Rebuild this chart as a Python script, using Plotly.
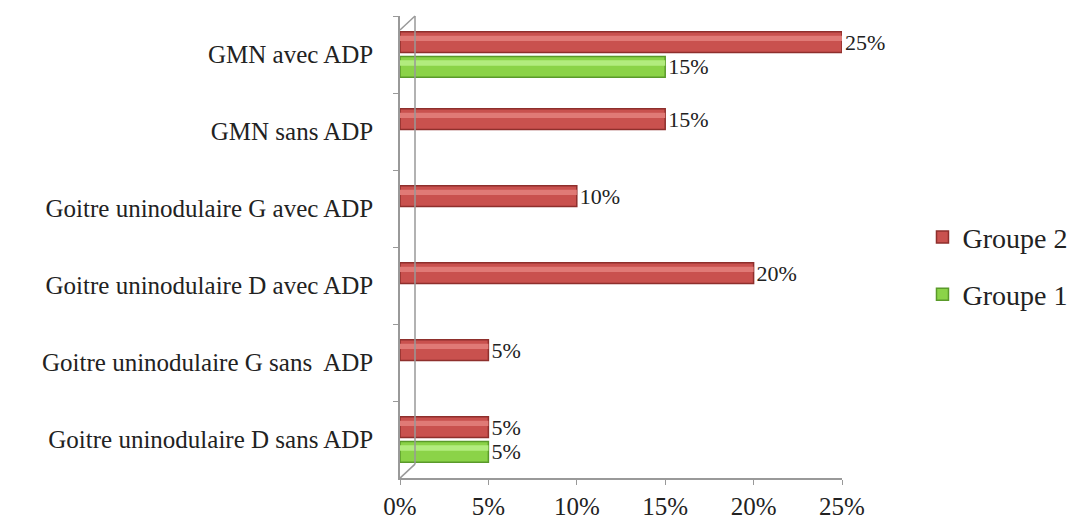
import plotly.graph_objects as go

categories = [
    "GMN avec ADP",
    "GMN sans ADP",
    "Goitre uninodulaire G avec ADP",
    "Goitre uninodulaire D avec ADP",
    "Goitre uninodulaire G sans  ADP",
    "Goitre uninodulaire D sans ADP",
]
groupe2 = [0.25, 0.15, 0.10, 0.20, 0.05, 0.05]
groupe1 = [0.15, None, None, None, None, 0.05]

RED = "#C9514E"
RED_DARK = "#8E2F2C"
RED_HI = "#E07A76"
GREEN = "#8BD348"
GREEN_DARK = "#5A9A2A"
GREEN_HI = "#B2EC7E"

FONT = "Liberation Serif"
BAR_W = 0.27
GAP = 0.025

fig = go.Figure()

# main cylinders
fig.add_trace(go.Bar(
    y=categories, x=groupe2, orientation="h", name="Groupe 2",
    offset=-GAP - BAR_W, width=BAR_W,
    marker=dict(color=RED, line=dict(color=RED_DARK, width=1.5)),
    text=[f"{v:.0%}" for v in groupe2], textposition="outside",
    constraintext="none",
    textfont=dict(family=FONT, size=22, color="#222"),
    cliponaxis=False, legendgroup="g2",
))
fig.add_trace(go.Bar(
    y=categories, x=groupe1, orientation="h", name="Groupe 1",
    offset=GAP, width=BAR_W,
    marker=dict(color=GREEN, line=dict(color=GREEN_DARK, width=1.5)),
    text=[f"{v:.0%}" if v is not None else "" for v in groupe1],
    textposition="outside", constraintext="none",
    textfont=dict(family=FONT, size=22, color="#222"),
    cliponaxis=False, legendgroup="g1",
))

# highlight stripe on each cylinder for a rounded look
fig.add_trace(go.Bar(
    y=categories, x=groupe2, orientation="h", showlegend=False, hoverinfo="skip",
    offset=-GAP - BAR_W + 0.05, width=0.07,
    marker=dict(color=RED_HI, line=dict(width=0)),
))
fig.add_trace(go.Bar(
    y=categories, x=groupe1, orientation="h", showlegend=False, hoverinfo="skip",
    offset=GAP + 0.05, width=0.07,
    marker=dict(color=GREEN_HI, line=dict(width=0)),
))

# back wall of the 3D frame
fig.add_shape(type="line", xref="x", xsizemode="pixel", xanchor=0, x0=15, x1=15,
              yref="paper", y0=0.03, y1=1.0, line=dict(color="#999", width=1.5))
fig.add_shape(type="line", xref="x", xsizemode="pixel", xanchor=0, x0=0, x1=15,
              yref="paper", ysizemode="pixel", yanchor=1.0, y0=-14, y1=0,
              line=dict(color="#999", width=1.5))
fig.add_shape(type="line", xref="x", xsizemode="pixel", xanchor=0, x0=0, x1=15,
              yref="paper", ysizemode="pixel", yanchor=0.03, y0=-14, y1=0,
              line=dict(color="#999", width=1.5))

fig.update_layout(
    barmode="overlay",
    width=1084, height=521,
    margin=dict(l=400, r=242, t=16, b=43, autoexpand=False),
    paper_bgcolor="white", plot_bgcolor="white",
    font=dict(family=FONT, size=25, color="#222"),
    legend=dict(xref="container", yref="container", x=0.851, y=0.49,
                xanchor="left", yanchor="middle",
                font=dict(family=FONT, size=28), tracegroupgap=18,
                itemwidth=30, traceorder="grouped"),
    xaxis=dict(range=[0, 0.25], tickformat=".0%", dtick=0.05,
               showgrid=False, zeroline=False, showline=True,
               linecolor="#999", linewidth=1.5, ticks="outside",
               ticklen=5, tickcolor="#999",
               tickfont=dict(family=FONT, size=25)),
    yaxis=dict(autorange="reversed", showgrid=False, showline=True,
               linecolor="#999", linewidth=1.5, ticks="outside",
               tickson="boundaries", ticklen=5, tickcolor="#999",
               ticklabelstandoff=20,
               tickfont=dict(family=FONT, size=25)),
)

fig.write_html("out.html")
